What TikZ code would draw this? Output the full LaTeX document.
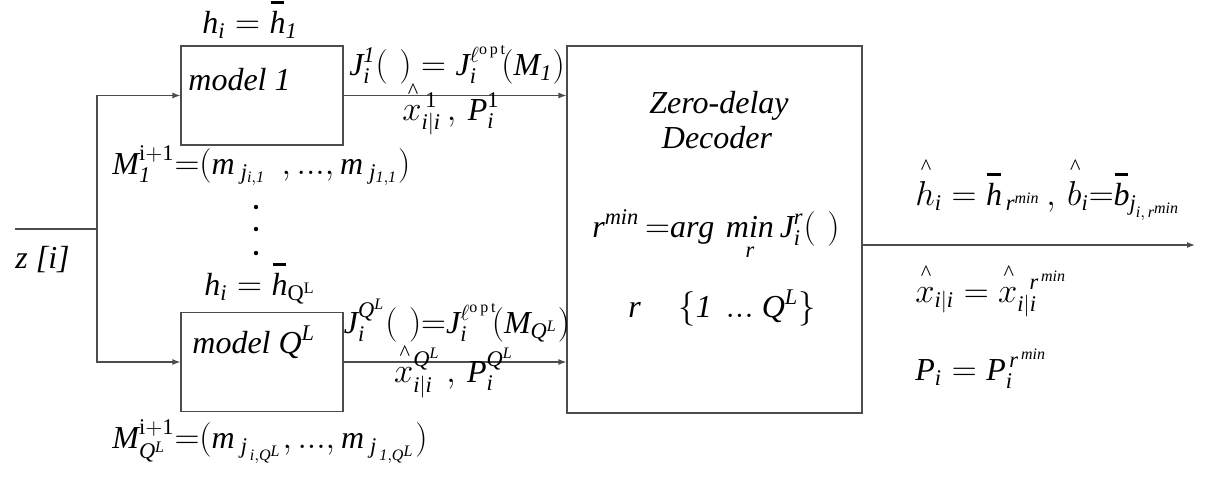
\documentclass[tikz,border=0pt]{standalone}
\usepackage{amsmath}
\usepackage{fontspec}
\setmainfont{Liberation Serif}
\usetikzlibrary{arrows.meta,positioning}
\newcommand{\obar}[1]{\overset{\rule{0.42em}{1.5pt}}{#1}}
\newcommand{\ohat}[1]{\smash[t]{\overset{\text{\^{}}}{#1}}}
\newcommand{\opt}{\ell^{\mathrm{o\,p\,t}}}

\tikzset{
  blk/.style={draw=black!70, line width=0.6pt, minimum width=81pt, minimum height=49.5pt, inner sep=0pt},
  lbl/.style={inner sep=0pt, font=\fontsize{16}{19}\selectfont\itshape},
  wire/.style={draw=black!70, line width=0.6pt},
  conn/.style={wire, -{Latex[length=4pt,width=3pt]}},
}

\begin{document}
\begin{tikzpicture}[x=0.5pt,y=-0.5pt]
\useasboundingbox (0,0) rectangle (1210,478);

% blocks
\node[blk] (model1) at (262,95.5) {};
\node[blk] (modelQ) at (262,362) {};
\node[blk, minimum width=147.5pt, minimum height=183.5pt] (dec) at (714.5,229.5) {};

% connectors
\coordinate (zin) at (15,229);
\coordinate (split) at (97,229);
\coordinate (out) at (1195,245);
\draw[wire] (zin) -- (split);
\draw[conn] (split) |- (model1.west);
\draw[conn] (split) |- (modelQ.west);
\draw[conn] (model1.east) -- (model1.east -| dec.west);
\draw[conn] (modelQ.east) -- (modelQ.east -| dec.west);
\draw[conn] (dec.east |- out) -- (out);

% model 1 branch
\node[lbl, anchor=base] (h1) at (250,33) {$\mathit{h_i = \obar{h}_1}$};
\node[lbl, anchor=base west] (m1txt) at (188,90) {model $\mathit{1}$};
\node[lbl, anchor=base] (J1) at (457,75) {$\mathit{J_i^1(\,\,) = J_i^{\opt}\!(M_1)}$};
\node[lbl, anchor=base] (x1) at (451,120) {$\mathit{\ohat{x}_{i|i}^{\,\mathrm{1}}\,,\,P_i^{\mathrm{1}}}$};
\node[lbl, anchor=base west] (M1) at (112,174) {$\mathit{M_1^{\mathrm{i+1}}{=}(m_{\;j_{i,1}}\;\,, ..., m_{\;j_{1,1}})}$};

% vertical dots
\foreach \y in {207,229,253}
  \fill (256,\y) circle (1.1pt);

\node[lbl, anchor=base west] (zi) at (15,268) {z [i]};

% model Q^L branch
\node[lbl, anchor=base] (hQ) at (260,295) {$\mathit{h_i = \obar{h}_{\mathrm{Q^L}}}$};
\node[lbl, anchor=base west] (mQtxt) at (192,353) {model $\mathit{Q^L}$};
\node[lbl, anchor=base] (JQ) at (457,333) {$\mathit{J_i^{Q^L}(\,\,){=}J_i^{\opt}\!(M_{Q^L})}$};
\node[lbl, anchor=base] (xQ) at (454,382) {$\mathit{\ohat{x}_{i|i}^{Q^L}\,,\,P_i^{Q^L}}$};
\node[lbl, anchor=base west] (MQ) at (112,448) {$\mathit{M_{Q^L}^{\mathrm{i+1}}{=}(m_{\;j_{\,i,Q^L}}, ..., m_{\;j_{\,1,Q^L}})}$};

% decoder
\node[lbl, anchor=base] (dt1) at (719,113) {Zero-delay};
\node[lbl, anchor=base] (dt2) at (717,148) {Decoder};
\node[lbl, anchor=base] (rmin) at (716,237) {$\mathit{r^{min}\,{=}arg\,\mathop{min}\limits_{r}J_i^r(\,\,)}$};
\node[lbl, anchor=base] (rset) at (722,317) {$\mathit{r\quad\,\{1\ \,...\ Q^L\}}$};

% outputs
\node[lbl, anchor=base west] (o1) at (915,205) {$\mathit{\ohat{h}_i = \obar{h}_{\,r^{min}}\,,\,\ohat{b}_i{=}\obar{b}_{j_{i,\,r^{min}}}}$};
\node[lbl, anchor=base west] (o2) at (915,302) {$\mathit{\ohat{x}_{i|i} = \ohat{x}_{i|i}^{\;\;r^{\,min}}}$};
\node[lbl, anchor=base west] (o3) at (915,380) {$\mathit{P_i = P_i^{\,r^{\,min}}}$};
\end{tikzpicture}
\end{document}
